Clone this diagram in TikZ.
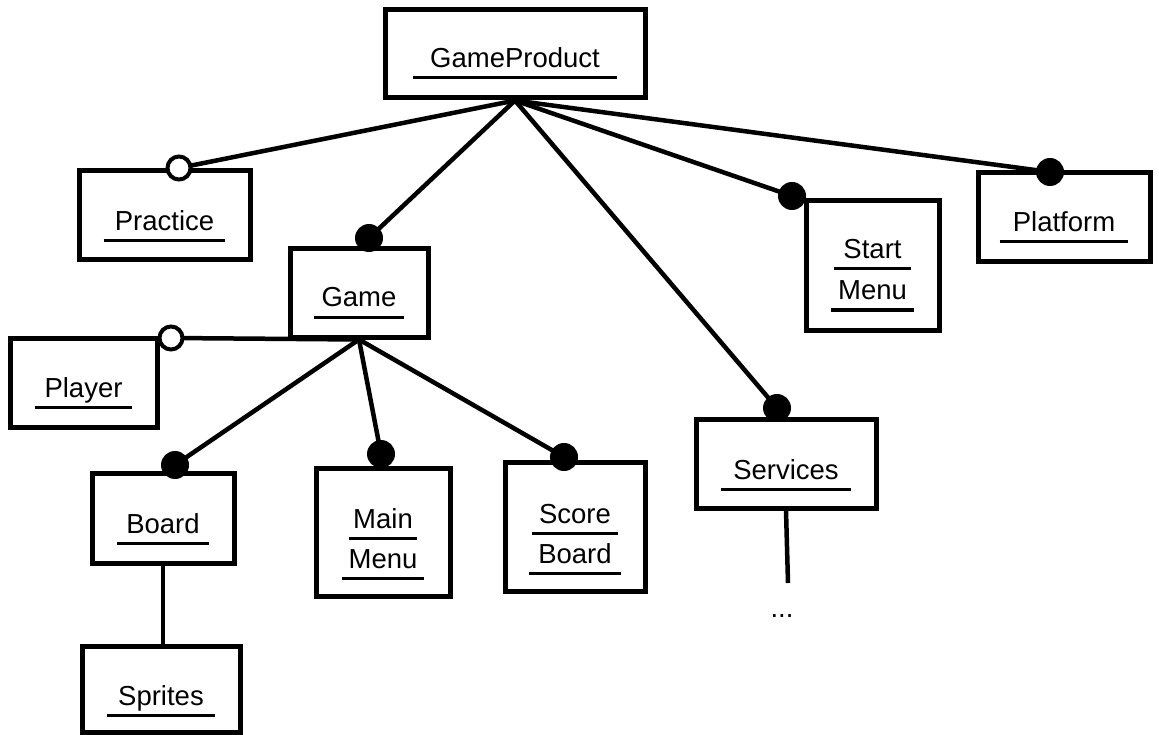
\documentclass[tikz,border=0pt]{standalone}
\usepackage{fontspec}
\setmainfont{Liberation Sans}
\begin{document}
\begin{tikzpicture}[x=1pt,y=-1pt,
  box/.style 2 args={draw, line width=5pt, minimum width=#1, minimum height=#2, inner sep=0pt},
  uline/.style={draw, line width=3pt},
  lbl/.style={font=\fontsize{27.5}{30}\selectfont, inner sep=0pt, anchor=base},
  ul/.style={lbl, append after command={
      ([xshift=-#1,yshift=-10pt]\tikzlastnode.base west) edge[uline]
      ([xshift=#1,yshift=-10pt]\tikzlastnode.base east)}},
  ul/.default=10pt,
  link/.style={line width=4.5pt},
  full/.style={circle, fill=black, minimum size=28pt, inner sep=0pt},
  hollow/.style={circle, draw, fill=white, line width=4pt, minimum size=23pt, inner sep=0pt},
]
\useasboundingbox (0,0) rectangle (1159,735);

% boxes
\node[box={260}{88}]  (gp)       at (515,54)    {};
\node[box={171}{89}]  (practice) at (164.5,215.5) {};
\node[box={138}{88}]  (game)     at (359,293)   {};
\node[box={147}{89}]  (player)   at (83.5,382.5) {};
\node[box={142}{90}]  (board)    at (163,518)   {};
\node[box={134}{128}] (mainmenu) at (383,532)   {};
\node[box={140}{129}] (score)    at (575,526.5) {};
\node[box={180}{89}]  (services) at (786,463.5) {};
\node[box={133}{129}] (start)    at (872.5,265.5) {};
\node[box={172}{89}]  (platform) at (1064,217.5) {};
\node[box={158}{86}]  (sprites)  at (161,689)   {};

% labels
\node[ul=17pt] (gpt)   at (515,68)    {GameProduct};
\node[ul=11pt] (prt)   at (164.5,231) {Practice};
\node[ul=7pt]  (gat)   at (359,307)   {Game};
\node[ul=9pt]  (plt)   at (83.5,397)  {Player};
\node[ul=9pt]  (bot)   at (163,533)   {Board};
\node[ul=4pt]  (mm1)   at (383,528)   {Main};
\node[ul=6pt]  (mm2)   at (383,568)   {Menu};
\node[ul=7pt]  (sb1)   at (575,523)   {Score};
\node[ul=9pt]  (sb2)   at (575,563)   {Board};
\node[ul=12pt] (svt)   at (786,479)   {Services};
\node[ul=9pt]  (sm1)   at (872.5,259) {Start};
\node[ul=7pt]  (sm2)   at (872.5,300) {Menu};
\node[ul=13pt] (pft)   at (1064,232)  {Platform};
\node[ul=11pt] (spt)   at (161,705)   {Sprites};
\node[lbl] (more) at (782,617) {...};

% link ends
\coordinate (cpr) at (179,168);
\coordinate (cga) at (369,238);
\coordinate (cpl) at (171,338);
\coordinate (cbo) at (175,465);
\coordinate (cmm) at (381,454);
\coordinate (csb) at (564,457);
\coordinate (csv) at (777,408);
\coordinate (cst) at (792,196);
\coordinate (cpf) at (1050,172);
\coordinate (svend) at (788,583);

% links
\draw[link] (gp.south) -- (cpr);
\draw[link] (gp.south) -- (cga);
\draw[link] (gp.south) -- (csv);
\draw[link] (gp.south) -- (cst);
\draw[link] (gp.south) -- (cpf);
\draw[link] (game.south) -- (cpl);
\draw[link] (game.south) -- (cbo);
\draw[link] (game.south) -- (cmm);
\draw[link] (game.south) -- (csb);
\draw[link] (board.south) -- (board.south |- sprites.north);
\draw[link] (services.south) -- (svend);

% link heads
\node[hollow] (hpr) at (cpr) {};
\node[hollow] (hpl) at (cpl) {};
\node[full] (hga) at (cga) {};
\node[full] (hbo) at (cbo) {};
\node[full] (hmm) at (cmm) {};
\node[full] (hsb) at (csb) {};
\node[full] (hsv) at (csv) {};
\node[full] (hst) at (cst) {};
\node[full] (hpf) at (cpf) {};
\end{tikzpicture}
\end{document}
